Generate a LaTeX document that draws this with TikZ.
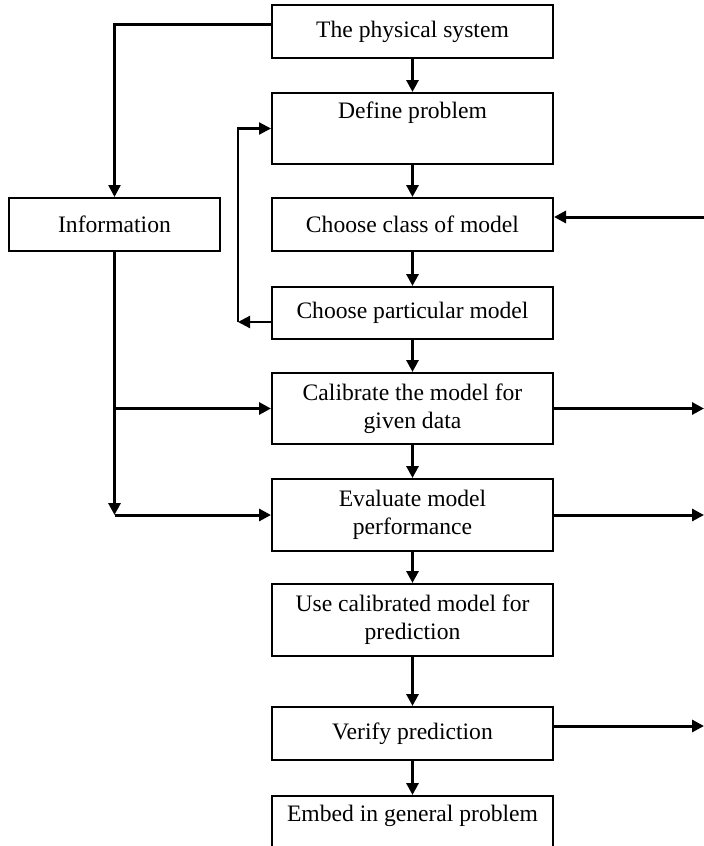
\documentclass[tikz,border=0pt]{standalone}
\usepackage{fontspec}
\setmainfont{Liberation Serif}
\usepackage{tikz}
\usetikzlibrary{arrows.meta, positioning, calc}

\begin{document}
\begin{tikzpicture}[x=0.5pt, y=-0.5pt,
    box/.style={draw, line width=1pt, rectangle, minimum width=140.5pt, inner sep=0pt, align=center, font=\fontsize{11.8}{14}\selectfont},
    flow/.style={line width=1.5pt, -{Triangle[length=6pt, width=6pt]}},
    thinflow/.style={line width=1.1pt, -{Triangle[length=6pt, width=6pt]}}]
    \useasboundingbox (0,0) rectangle (704,846);
    % Main chain of boxes
    \node[box, minimum height=26.5pt] (phys) at (412.5,31.5) {The physical system};
    \node[box, minimum height=35.5pt] (define) at (412.5,128.5) {Define problem\\ \strut};
    \node[box, minimum height=26.5pt, minimum width=105.5pt] (info) at (114.5,224.5) {Information};
    \node[box, minimum height=26.5pt] (class) at (412.5,224.5) {Choose class of model};
    \node[box, minimum height=26pt] (part) at (412.5,313) {Choose particular model};
    \node[box, minimum height=35.5pt] (calib) at (412.5,408.5) {Calibrate the model for\\ given data};
    \node[box, minimum height=36pt] (evalu) at (412.5,515) {Evaluate model\\ performance};
    \node[box, minimum height=36pt] (use) at (412.5,620) {Use calibrated model for\\ prediction};
    \node[box, minimum height=26.5pt] (verify) at (412.5,733.5) {Verify prediction};
    \node[box, minimum height=35.5pt] (embed) at (412.5,831.5) {Embed in general problem\\ \strut};

    % Free ends at the right border
    \coordinate (rin) at (704,217);
    \coordinate (rcal) at (704,408.5);
    \coordinate (reva) at (704,515);
    \coordinate (rver) at (704,726);
    \coordinate (fb) at (238,322);

    % Downward arrows
    \draw[flow] (phys) -- (define);
    \draw[flow] (define) -- (class);
    \draw[flow] (class) -- (part);
    \draw[flow] (part) -- (calib);
    \draw[flow] (calib) -- (evalu);
    \draw[flow] (evalu) -- (use);
    \draw[flow] (use) -- (verify);
    \draw[flow] (verify) -- (embed);

    % Information branch
    \draw[flow, line width=1.25pt] ([yshift=3.5pt]phys.west) -| (info.north);
    \draw[flow] (info.south) -- (info.south |- evalu.west) coordinate (ic);
    \draw[flow] (ic) -- (evalu.west);
    \draw[flow] (info.south |- calib.west) -- (calib.west);

    % Feedback loop
    \draw[thinflow] (part.west |- fb) -- (fb);
    \draw[thinflow] (fb) |- (define.west);

    % Outside links
    \draw[flow] (rin) -- (class.east |- rin);
    \draw[flow] (calib.east) -- (rcal);
    \draw[flow] (evalu.east) -- (reva);
    \draw[flow] (verify.east |- rver) -- (rver);
\end{tikzpicture}
\end{document}
